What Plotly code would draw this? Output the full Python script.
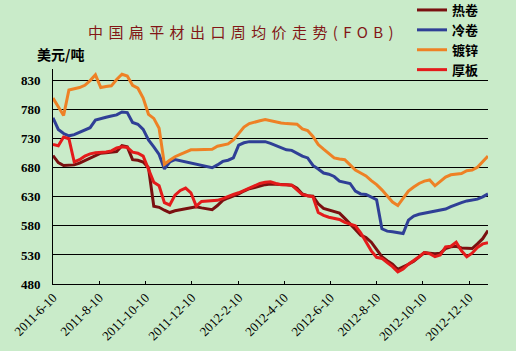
import plotly.graph_objects as go
import pandas as pd

# ---------------- data ----------------
start_date = "2011-06-10"
n_weeks = 83
dates = pd.date_range(start_date, periods=n_weeks, freq="7D")

hot_rolled = [701, 689, 684, 685, 685, 688, 692, 696, 701, 705,
              706, 707, 708, 718, 716, 694, 693, 690, 680, 614,
              612, 607, 603, 606, 608, 609, 611, 613, 611, 609,
              608, 615, 624, 628, 631, 635, 640, 644, 646, 649,
              651, 652, 652, 651, 651, 650, 645, 635, 632, 631,
              618, 610, 607, 605, 602, 593, 584, 574, 564, 560,
              552, 539, 527, 520, 514, 505, 509, 514, 519, 526,
              534, 533, 532, 533, 541, 544, 545, 542, 541, 541,
              549, 558, 572]

cold_rolled = [766, 746, 739, 735, 737, 741, 744, 749, 762, 765,
               767, 769, 771, 776, 775, 758, 755, 746, 728, 716,
               703, 678, 690, 694, 692, 690, 688, 686, 684, 681,
               680, 685, 691, 693, 697, 719, 723, 725, 725, 725,
               725, 722, 718, 714, 711, 710, 705, 700, 697, 684,
               678, 671, 669, 665, 657, 655, 653, 640, 635, 634,
               630, 625, 575, 571, 570, 568, 567, 590, 597, 600,
               602, 604, 606, 607, 609, 613, 617, 620, 623, 624,
               626, 630, 635]

galvanized = [800, 785, 770, 814, 816, 818, 822, 830, 840, 818,
              820, 821, 832, 841, 838, 822, 817, 800, 772, 765,
              748, 686, 693, 699, 703, 707, 711, 711, 711, 711,
              712, 717, 719, 721, 728, 740, 750, 756, 759, 761,
              763, 761, 758, 757, 756, 756, 755, 747, 744, 734,
              720, 712, 705, 697, 695, 694, 685, 676, 671, 666,
              658, 651, 642, 632, 621, 615, 627, 640, 647, 653,
              657, 659, 649, 656, 664, 668, 669, 670, 675, 676,
              681, 690, 700]

plate = [720, 718, 733, 730, 690, 694, 700, 704, 706, 706,
         707, 709, 714, 716, 715, 707, 705, 700, 678, 655,
         649, 620, 616, 633, 641, 645, 637, 614, 622, 623,
         623, 624, 627, 631, 634, 637, 641, 645, 650, 653,
         655, 656, 653, 651, 651, 650, 642, 634, 632, 630,
         603, 598, 595, 593, 591, 586, 583, 580, 568, 553,
         537, 526, 524, 517, 510, 501, 506, 514, 520, 527,
         534, 532, 527, 530, 544, 545, 552, 537, 527, 533,
         543, 549, 551]

series_names = ["热卷", "冷卷", "镀锌", "厚板"]
series_values = [hot_rolled, cold_rolled, galvanized, plate]
series_colors = ["#7A1010", "#2F3F96", "#EE8125", "#E41B1B"]

tick_dates = ["2011-06-10", "2011-08-10", "2011-10-10", "2011-12-10",
              "2012-02-10", "2012-04-10", "2012-06-10", "2012-08-10",
              "2012-10-10", "2012-12-10"]
tick_labels = ["2011-6-10", "2011-8-10", "2011-10-10", "2011-12-10",
               "2012-2-10", "2012-4-10", "2012-6-10", "2012-8-10",
               "2012-10-10", "2012-12-10"]
y_ticks = [480, 530, 580, 630, 680, 730, 780, 830]

title_text = "中国扁平材出口周均价走势(FOB)"
unit_text = "美元/吨"

# ---------------- layout geometry ----------------
W, H = 516, 351
L, R, T, B = 53, 28, 69, 67
pw, ph = W - L - R, H - T - B


def px2x(px):
    return (px - L) / pw


def py2y(py):
    return (H - B - py) / ph


BG = "#C9EBC9"

fig = go.Figure()
for name, vals, col in zip(series_names, series_values, series_colors):
    fig.add_trace(go.Scatter(
        x=dates, y=vals, name=name, mode="lines",
        line=dict(color=col, width=3),
    ))

fig.update_layout(
    width=W, height=H,
    margin=dict(l=L, r=R, t=T, b=B, pad=0, autoexpand=False),
    paper_bgcolor=BG, plot_bgcolor=BG,
    showlegend=True,
    legend=dict(
        xref="paper", yref="paper",
        x=px2x(412), y=py2y(-5), xanchor="left", yanchor="top",
        bgcolor="rgba(0,0,0,0)", borderwidth=0,
        font=dict(family="Noto Sans CJK SC", size=13, color="black", weight="bold"),
        tracegroupgap=0, itemwidth=30,
    ),
    xaxis=dict(
        type="date",
        range=[dates[0], dates[-1]],
        tickvals=tick_dates, ticktext=tick_labels,
        tickangle=-45,
        tickfont=dict(family="Liberation Serif", size=13, color="black"),
        showgrid=False, zeroline=False,
        showline=True, linecolor="black", linewidth=1,
        ticks="inside", ticklen=3, tickcolor="black", tickwidth=1,
        automargin=False,
    ),
    yaxis=dict(
        range=[480, 850],
        tickvals=y_ticks,
        tickfont=dict(family="Liberation Serif", size=13, color="black", weight="bold"),
        showgrid=True, gridcolor="black", gridwidth=1,
        zeroline=False,
        showline=True, linecolor="black", linewidth=1,
        ticks="", ticklabelstandoff=9,
        automargin=False,
    ),
)

fig.add_annotation(
    text='<span style="letter-spacing:5.4px">' + title_text + '</span>',
    x=px2x(86), y=py2y(32), xref="paper", yref="paper",
    xanchor="left", yanchor="middle", showarrow=False,
    font=dict(family="Noto Sans CJK SC", size=15, color="#821616"),
)
fig.add_annotation(
    text=unit_text,
    x=px2x(35), y=py2y(54), xref="paper", yref="paper",
    xanchor="left", yanchor="middle", showarrow=False,
    font=dict(family="Noto Sans CJK SC", size=14, color="black", weight="bold"),
)

fig.write_html("out.html")
